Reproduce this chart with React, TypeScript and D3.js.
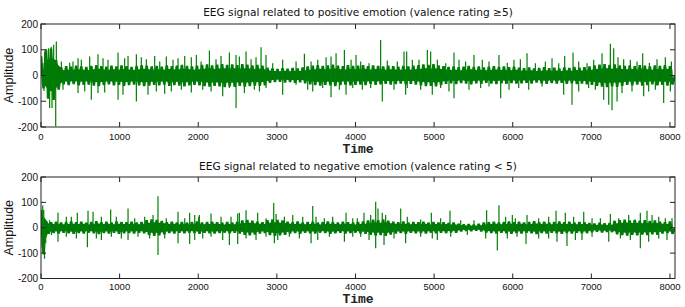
import React from 'react';
import * as d3 from 'd3';

// ---------- data ----------
const N_SAMPLES = 8064;
const BIN = 64; // samples per envelope bin
const xTicks = [0, 1000, 2000, 3000, 4000, 5000, 6000, 7000, 8000];
const yTicks = [-200, -100, 0, 100, 200];

const posTitle = 'EEG signal related to positive emotion (valence rating \u22655)';
const negTitle = 'EEG signal related to negative emotion (valence rating < 5)';

// dense core band of the positive-emotion signal (per 64-sample bin)
const posCoreHi = [
  75, 100, 105, 60,
  32, 36, 34, 38, 35, 33, 37, 40, 36, 34, 38, 35, 39, 36, 33, 37, 40, 38, 35, 37, 34, 39, 36, 38, 41, 37, 35,
  38, 41, 43, 39, 42, 44, 41, 43, 40, 44, 42, 39, 41, 38,
  30, 27, 25, 28, 26, 29, 27, 31,
  35, 38, 40, 37, 39, 42, 38, 36, 40, 37,
  38, 40, 36, 39, 37, 35, 38, 36, 34, 37, 35, 38,
  40, 43, 41, 44, 39,
  36, 33, 35, 32, 34, 37, 33, 35, 31, 34, 36, 33, 35, 32, 34,
  30, 28, 31, 27, 29, 32, 28, 30, 27, 31, 29, 33, 30, 32, 35,
  39, 42, 44, 41, 43, 39,
  37, 39, 36, 40, 38, 35, 39, 37, 40, 36,
];
const posCoreLo = [
  -50, -90, -95, -55,
  -34, -37, -33, -38, -36, -35, -39, -41, -37, -34, -38, -36, -40, -37, -35, -38, -41, -39, -36, -38, -35, -40, -37, -39, -42, -38, -36,
  -38, -41, -43, -40, -42, -45, -42, -44, -40, -43, -41, -39, -40, -38,
  -28, -25, -24, -27, -25, -28, -26, -30,
  -34, -37, -39, -36, -38, -41, -37, -35, -38, -36,
  -35, -37, -33, -36, -34, -32, -35, -33, -31, -34, -32, -35,
  -38, -41, -40, -42, -37,
  -32, -30, -33, -29, -31, -34, -30, -32, -28, -31, -33, -30, -32, -29, -31,
  -30, -28, -31, -27, -30, -32, -29, -31, -28, -32, -30, -33, -31, -34, -36,
  -40, -43, -45, -42, -44, -40,
  -36, -38, -35, -39, -37, -34, -38, -36, -39, -35,
];
// individual spikes of the positive-emotion signal: [sample, amplitude]
const posSpikes: [number, number][] = [
  [46, 93], [68, 102], [97, 106], [131, 112], [161, 119], [195, 132],
  [38, -60], [80, -88], [110, -126], [140, -126], [165, -94], [187, -197],
  [259, 54], [365, 50], [407, 54], [471, 67], [513, 61], [619, 74], [725, 83], [789, 67], [852, 61], [980, 89],
  [1064, 67], [1107, 76], [1213, 83], [1276, 71], [1340, 63], [1446, 76], [1510, 54], [1594, 74], [1679, 61],
  [1743, 67], [1828, 76], [1912, 71], [1976, 80],
  [280, -55], [471, -68], [556, -62], [640, -94], [725, -68], [810, -66], [980, -94], [1043, -75], [1213, -101],
  [1361, -75], [1467, -62], [1573, -71], [1658, -62], [1785, -55], [1912, -66],
  [2036, 54], [2142, 97], [2226, 63], [2290, 76], [2396, 89], [2481, 80], [2523, 74], [2608, 93], [2672, 63],
  [2735, 71], [2799, 110], [2862, 80], [2947, 48], [3074, 61], [3244, 54], [3350, 84], [3435, 54], [3520, 61],
  [3626, 71], [3689, 74], [3753, 86], [3859, 99], [3944, 61], [4007, 80],
  [2057, -55], [2163, -62], [2311, -81], [2396, -49], [2481, -126], [2587, -68], [2714, -55], [2778, -62],
  [2862, -49], [3074, -75], [3244, -36], [3392, -55], [3456, -62], [3583, -49], [3689, -84], [3795, -55],
  [3880, -75], [3965, -49],
  [4066, 54], [4172, 48], [4320, 138], [4405, 58], [4532, 54], [4617, 93], [4651, 93], [4723, 61], [4808, 61],
  [4914, 99], [4956, 93], [5041, 61], [5147, 48], [5253, 89], [5317, 61], [5401, 54], [5507, 80], [5613, 61],
  [5698, 54], [5825, 80], [5931, 50], [6016, 61],
  [4087, -55], [4193, -49], [4341, -101], [4490, -55], [4638, -75], [4659, -49], [4829, -55], [4977, -75],
  [5083, -49], [5189, -62], [5253, -88], [5444, -55], [5592, -49], [5698, -43], [5847, -88], [5953, -55],
  [6097, 63], [6182, 86], [6288, 48], [6415, 54], [6500, 67], [6585, 48], [6661, 76], [6767, 89], [6839, 54],
  [6945, 48], [7030, 61], [7136, 86], [7242, 123], [7284, 106], [7339, 71], [7411, 63], [7496, 61], [7581, 54],
  [7653, 86], [7738, 50], [7835, 63], [7941, 71], [8018, 54],
  [6076, -49], [6203, -55], [6373, -43], [6648, -75], [6754, -114], [6839, -62], [6966, -49], [7051, -55],
  [7157, -94], [7221, -114], [7263, -135], [7327, -101], [7390, -68], [7517, -62], [7666, -81], [7729, -62],
  [7814, -55], [7920, -107], [8005, -62],
];

// dense core band of the negative-emotion signal (per 64-sample bin)
const negCoreHi = [
  70,
  26, 22, 24, 21, 23, 25, 22, 24, 20, 23, 26, 22, 24, 21, 25, 23, 22, 24, 21, 23,
  30, 33, 31, 27,
  22, 24, 21, 23, 20, 22, 25, 21, 23, 24, 22, 20, 23, 21, 24,
  29, 31, 28,
  24, 22,
  30, 33, 31, 29,
  24, 22, 25, 21, 23, 24, 20, 22, 25, 23, 21, 24, 22, 20, 23, 25,
  29, 32, 30, 33, 28,
  24, 22, 25, 21, 23, 22, 24, 20, 23, 21, 22, 19, 20,
  15, 13, 14, 12, 15,
  20, 22, 24, 21, 23, 25, 22, 24, 21, 23, 26, 22, 24, 21, 23, 25, 22, 24, 21, 23, 22,
  18, 16, 19, 17, 18,
  27, 30, 32, 29, 31, 28, 30, 27, 29,
  24, 22, 25,
];
const negCoreLo = [
  -100,
  -24, -21, -23, -20, -22, -24, -21, -23, -19, -22, -25, -21, -23, -20, -24, -22, -21, -23, -20, -22,
  -29, -32, -30, -26,
  -21, -23, -20, -22, -19, -21, -24, -20, -22, -23, -21, -19, -22, -20, -23,
  -28, -30, -27,
  -23, -21,
  -29, -32, -30, -28,
  -23, -21, -24, -20, -22, -23, -19, -21, -24, -22, -20, -23, -21, -19, -22, -24,
  -28, -31, -29, -32, -27,
  -23, -21, -24, -20, -22, -21, -23, -19, -22, -20, -21, -18, -19,
  -14, -12, -13, -11, -14,
  -19, -21, -23, -20, -22, -24, -21, -23, -20, -22, -25, -21, -23, -20, -22, -24, -21, -23, -20, -22, -21,
  -17, -15, -18, -16, -17,
  -26, -29, -31, -28, -30, -27, -29, -26, -28,
  -23, -21, -24,
];
// individual spikes of the negative-emotion signal: [sample, amplitude]
const negSpikes: [number, number][] = [
  [10, 60], [22, 88], [35, 70], [15, -80], [30, -105], [45, -122], [60, -60],
  [110, 30], [216, 59], [322, 43], [386, 43], [462, 59], [598, 67], [662, 63], [768, 43], [886, 72], [958, 43],
  [1107, 76], [1192, 37], [1319, 43], [1425, 50], [1488, 124], [1594, 37], [1743, 63], [1828, 37], [1891, 59],
  [1955, 50], [2006, 43],
  [132, -29], [216, -55], [322, -35], [450, -42], [590, -77], [704, -42], [768, -48], [895, -35], [1022, -42],
  [1107, -48], [1234, -35], [1382, -42], [1488, -107], [1573, -42], [1743, -61], [1891, -64], [1955, -48],
  [2014, 50], [2163, 56], [2290, 43], [2417, 43], [2502, 56], [2523, 59], [2608, 69], [2756, 59], [2862, 37],
  [2960, 98], [2990, 54], [3096, 43], [3202, 50], [3329, 43], [3456, 86], [3498, 43], [3604, 37], [3710, 43],
  [3880, 59], [3965, 37],
  [2057, -42], [2163, -35], [2311, -48], [2396, -68], [2502, -64], [2608, -42], [2735, -48], [2862, -35],
  [2968, -61], [3011, -48], [3159, -35], [3286, -42], [3435, -61], [3520, -48], [3668, -35], [3859, -55],
  [3965, -35],
  [4023, 37], [4108, 59], [4193, 50], [4257, 102], [4286, 76], [4341, 59], [4384, 50], [4575, 76], [4659, 43],
  [4829, 33], [4965, 59], [5083, 37], [5202, 67], [5338, 30], [5507, 30], [5668, 69], [5825, 89], [5910, 43],
  [5995, 50],
  [4066, -35], [4172, -48], [4257, -81], [4363, -68], [4490, -42], [4638, -61], [4829, -35], [4977, -42],
  [5041, -48], [5211, -35], [5423, -29], [5656, -42], [5804, -90], [5931, -42],
  [6033, 37], [6182, 50], [6330, 37], [6457, 43], [6551, 67], [6669, 59], [6775, 43], [6903, 63], [7009, 37],
  [7115, 37], [7242, 54], [7348, 37], [7475, 50], [7623, 59], [7708, 67], [7772, 50], [7857, 43], [7941, 37],
  [8026, 37],
  [6055, -35], [6169, -64], [6330, -42], [6457, -42], [6563, -55], [6690, -72], [6797, -48], [6881, -48],
  [7009, -35], [7221, -55], [7369, -42], [7496, -48], [7623, -81], [7729, -55], [7857, -42], [7962, -48],
];

// ---------- drawing ----------
const W = 685;
const H = 307;
const LEFT = 41;
const RIGHT = 675;
const GREEN = '#008000';
const CORE = '#00780a';
const SANS = '"Liberation Sans", Arial, sans-serif';
const TITLE_FONT = '"DejaVu Sans", Verdana, sans-serif';
const MONO = '"Liberation Mono", "Courier New", monospace';

type PanelProps = {
  id: string;
  top: number;
  bottom: number;
  title: string;
  titleY: number;
  tickLabelY: number;
  timeY: number;
  coreHi: number[];
  coreLo: number[];
  spikes: [number, number][];
};

type Bin = { t: number; hi: number; lo: number };

function Panel({ id, top, bottom, title, titleY, tickLabelY, timeY, coreHi, coreLo, spikes }: PanelProps) {
  const x = d3.scaleLinear().domain([0, N_SAMPLES]).range([LEFT, RIGHT]);
  const y = d3.scaleLinear().domain([-200, 200]).range([bottom, top]);

  const bins: Bin[] = coreHi.map((hi, i) => ({ t: i * BIN + BIN / 2, hi, lo: coreLo[i] }));

  // solid centre of the band
  const area = d3
    .area<Bin>()
    .x((d) => x(d.t))
    .y0((d) => y(d.lo * 0.65))
    .y1((d) => y(d.hi * 0.65))
    .curve(d3.curveLinear);

  // zig-zag trace between each bin's max and min (ragged edges)
  const zig: [number, number][] = [];
  coreHi.forEach((hi, i) => {
    zig.push([x(i * BIN), y(hi)]);
    zig.push([x(i * BIN + BIN / 2), y(coreLo[i])]);
  });
  zig.push([x(N_SAMPLES), y(0)]);
  const zigPath = d3.line()(zig) || '';

  const midX = (LEFT + RIGHT) / 2;
  const tickLen = 5;

  return (
    <g>
      <defs>
        <clipPath id={`clip-${id}`}>
          <rect x={LEFT} y={top} width={RIGHT - LEFT} height={bottom - top} />
        </clipPath>
      </defs>
      <text x={midX} y={titleY} textAnchor="middle" fontFamily={TITLE_FONT} fontSize={10.6} fill="#111">
        {title}
      </text>
      <g clipPath={`url(#clip-${id})`}>
        <path d={area(bins) || ''} fill={CORE} />
        <path d={zigPath} fill="none" stroke={CORE} strokeWidth={2.5} strokeLinejoin="bevel" />
        {spikes.map(([t, v], i) => (
          <line key={i} x1={x(t)} x2={x(t)} y1={y(0)} y2={y(v)} stroke={GREEN} strokeWidth={1.2} />
        ))}
      </g>
      {/* box */}
      <rect x={LEFT} y={top} width={RIGHT - LEFT} height={bottom - top} fill="none" stroke="#222" strokeWidth={1} />
      {/* x ticks */}
      {xTicks.map((t) => (
        <g key={`xt${t}`}>
          <line x1={x(t)} x2={x(t)} y1={bottom} y2={bottom - tickLen} stroke="#222" />
          <line x1={x(t)} x2={x(t)} y1={top} y2={top + tickLen} stroke="#222" />
          <text x={x(t)} y={tickLabelY} textAnchor="middle" fontFamily={SANS} fontSize={9.5} fill="#111">
            {t}
          </text>
        </g>
      ))}
      {/* y ticks */}
      {yTicks.map((v) => (
        <g key={`yt${v}`}>
          <line x1={LEFT} x2={LEFT + tickLen} y1={y(v)} y2={y(v)} stroke="#222" />
          <line x1={RIGHT} x2={RIGHT - tickLen} y1={y(v)} y2={y(v)} stroke="#222" />
          <text x={LEFT - 3} y={y(v)} textAnchor="end" dominantBaseline="central" fontFamily={SANS} fontSize={10} fill="#111">
            {v}
          </text>
        </g>
      ))}
      <text
        x={0}
        y={0}
        transform={`translate(9,${(top + bottom) / 2}) rotate(-90)`}
        textAnchor="middle"
        dominantBaseline="central"
        fontFamily={SANS}
        fontSize={12.5}
        fill="#111"
      >
        Amplitude
      </text>
      <text x={midX} y={timeY} textAnchor="middle" fontFamily={MONO} fontWeight="bold" fontSize={13} fill="#222">
        Time
      </text>
    </g>
  );
}

export default function App() {
  return (
    <svg width={W} height={H} style={{ position: 'absolute', left: 0, top: 0, background: '#fff' }}>
      <rect width={W} height={H} fill="#fff" />
      <Panel
        id="pos"
        top={24}
        bottom={127}
        title={posTitle}
        titleY={15.5}
        tickLabelY={139.5}
        timeY={153}
        coreHi={posCoreHi}
        coreLo={posCoreLo}
        spikes={posSpikes}
      />
      <Panel
        id="neg"
        top={177}
        bottom={278.5}
        title={negTitle}
        titleY={169.5}
        tickLabelY={289.5}
        timeY={303}
        coreHi={negCoreHi}
        coreLo={negCoreLo}
        spikes={negSpikes}
      />
    </svg>
  );
}
